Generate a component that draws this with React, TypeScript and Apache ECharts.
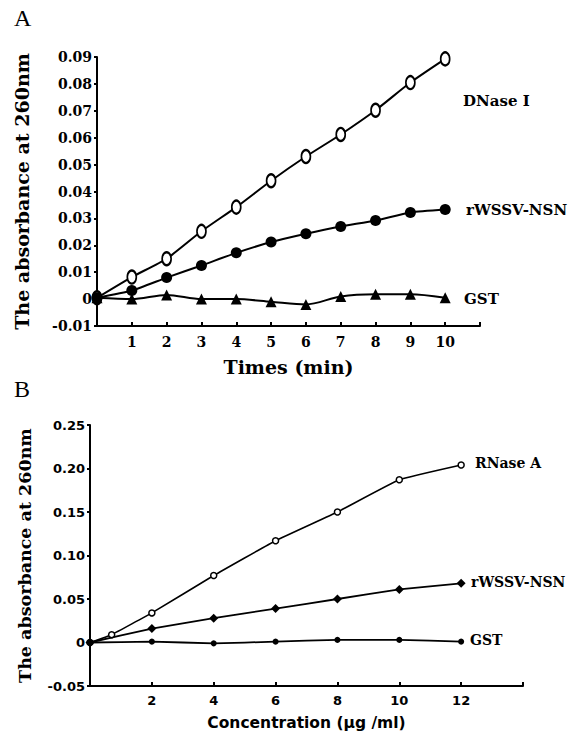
import React, { useEffect, useRef } from "react";
import * as echarts from "echarts";

// Panel A: Times (min)
const timeA = [0, 1, 2, 3, 4, 5, 6, 7, 8, 9, 10];
const dnaseA = [0.0005, 0.0082, 0.015, 0.0252, 0.0342, 0.044, 0.053, 0.0612, 0.0702, 0.0805, 0.0893];
const nsnA = [0.0005, 0.0032, 0.008, 0.0125, 0.0172, 0.0212, 0.0243, 0.027, 0.0292, 0.0322, 0.0333];
const gstA = [0.0005, 0, 0.0015, 0, 0, -0.001, -0.002, 0.001, 0.0018, 0.0018, 0.0005];

// Panel B: Concentration (μg/ml)
const concRNase = [0, 0.7, 2, 4, 6, 8, 10, 12];
const rnaseB = [0, 0.009, 0.034, 0.077, 0.117, 0.15, 0.187, 0.204];
const concB = [0, 2, 4, 6, 8, 10, 12];
const nsnB = [0, 0.016, 0.028, 0.039, 0.05, 0.061, 0.068];
const gstB = [0, 0.001, -0.001, 0.001, 0.003, 0.003, 0.001];

const serifB = "'DejaVu Serif', serif";
const sansB = "'DejaVu Sans', sans-serif";

const pairs = (xs: number[], ys: number[]) => xs.map((x, i) => [x, ys[i]]);

export default function App() {
  const ref = useRef<HTMLDivElement>(null);
  useEffect(() => {
    document.body.style.margin = "0";
    const chart = echarts.init(ref.current!, undefined, { renderer: "svg" });
    const axisLine = { show: true, onZero: false, lineStyle: { color: "#000", width: 2 } };
    const option: any = {
      animation: false,
      backgroundColor: "#fff",
      grid: [
        { left: 97, top: 57, width: 383, height: 269, outerBoundsMode: "none", containLabel: false },
        { left: 90, top: 425, width: 433, height: 261, outerBoundsMode: "none", containLabel: false },
      ],
      xAxis: [
        {
          type: "value", gridIndex: 0, min: 0, max: 11, interval: 1,
          axisLine, splitLine: { show: false },
          axisTick: { show: true, inside: true, length: 4, lineStyle: { color: "#000", width: 2 } },
          axisLabel: {
            margin: 9, color: "#000", fontFamily: serifB, fontWeight: "bold", fontSize: 14,
            formatter: (v: number) => (v === 0 || v === 11 ? "" : String(v)),
          },
          name: "Times (min)", nameLocation: "middle", nameGap: 31,
          nameTextStyle: { color: "#000", fontFamily: serifB, fontWeight: "bold", fontSize: 19 },
        },
        {
          type: "value", gridIndex: 1, min: 0, max: 14, interval: 2,
          axisLine, splitLine: { show: false },
          axisTick: { show: true, inside: true, length: 4, lineStyle: { color: "#000", width: 2 } },
          axisLabel: {
            margin: 8, color: "#000", fontFamily: sansB, fontWeight: "bold", fontSize: 13,
            formatter: (v: number) => (v === 0 || v === 14 ? "" : String(v)),
          },
          name: "Concentration (μg /ml)", nameLocation: "middle", nameGap: 29,
          nameTextStyle: { color: "#000", fontFamily: sansB, fontWeight: "bold", fontSize: 15.5 },
        },
      ],
      yAxis: [
        {
          type: "value", gridIndex: 0, min: -0.01, max: 0.09, interval: 0.01,
          axisLine, splitLine: { show: false },
          axisTick: { show: true, length: 3, lineStyle: { color: "#000", width: 2 } },
          axisLabel: {
            margin: 5, color: "#000", fontFamily: serifB, fontWeight: "bold", fontSize: 14,
            formatter: (v: number) => (Math.abs(v) < 1e-9 ? "0" : v.toFixed(2)),
          },
          name: "The absorbance at 260nm", nameLocation: "middle", nameGap: 66, nameRotate: 90,
          nameTextStyle: { color: "#000", fontFamily: serifB, fontWeight: "bold", fontSize: 19 },
        },
        {
          type: "value", gridIndex: 1, min: -0.05, max: 0.25, interval: 0.05,
          axisLine, splitLine: { show: false },
          axisTick: { show: true, length: 3, lineStyle: { color: "#000", width: 2 } },
          axisLabel: {
            margin: 5, color: "#000", fontFamily: sansB, fontWeight: "bold", fontSize: 13,
            formatter: (v: number) => (Math.abs(v) < 1e-9 ? "0" : v.toFixed(2)),
          },
          name: "The absorbance at 260nm", nameLocation: "middle", nameGap: 56, nameRotate: 90,
          nameTextStyle: { color: "#000", fontFamily: serifB, fontWeight: "bold", fontSize: 17.5 },
        },
      ],
      series: [
        {
          name: "DNase I", type: "line", xAxisIndex: 0, yAxisIndex: 0, smooth: 0.2,
          data: pairs(timeA, dnaseA), symbol: "circle", symbolSize: [9, 13],
          lineStyle: { color: "#000", width: 2 },
          itemStyle: { color: "#fff", borderColor: "#000", borderWidth: 2 }, z: 3,
        },
        {
          name: "rWSSV-NSN", type: "line", xAxisIndex: 0, yAxisIndex: 0, smooth: 0.2,
          data: pairs(timeA, nsnA), symbol: "circle", symbolSize: 11,
          lineStyle: { color: "#000", width: 2 },
          itemStyle: { color: "#000" }, z: 3,
        },
        {
          name: "GST", type: "line", xAxisIndex: 0, yAxisIndex: 0, smooth: 0.3,
          data: pairs(timeA, gstA), symbol: "triangle", symbolSize: 11,
          lineStyle: { color: "#000", width: 2 },
          itemStyle: { color: "#000" }, z: 3,
        },
        {
          name: "RNase A", type: "line", xAxisIndex: 1, yAxisIndex: 1, smooth: 0.1,
          data: pairs(concRNase, rnaseB), symbol: "circle", symbolSize: 6,
          lineStyle: { color: "#000", width: 1.6 },
          itemStyle: { color: "#fff", borderColor: "#000", borderWidth: 1.5 }, z: 3,
        },
        {
          name: "rWSSV-NSN B", type: "line", xAxisIndex: 1, yAxisIndex: 1, smooth: 0.1,
          data: pairs(concB, nsnB), symbol: "diamond", symbolSize: 9,
          lineStyle: { color: "#000", width: 1.8 },
          itemStyle: { color: "#000" }, z: 3,
        },
        {
          name: "GST B", type: "line", xAxisIndex: 1, yAxisIndex: 1, smooth: 0.1,
          data: pairs(concB, gstB), symbol: "circle", symbolSize: 6,
          lineStyle: { color: "#000", width: 1.8 },
          itemStyle: { color: "#000" }, z: 3,
        },
      ],
      graphic: [
        { type: "text", left: 14, top: 6, style: { text: "A", fontSize: 24, fontFamily: "'Liberation Serif', serif", fill: "#000" } },
        { type: "text", left: 14, top: 377, style: { text: "B", fontSize: 24, fontFamily: "'Liberation Serif', serif", fill: "#000" } },
        { type: "text", left: 463, top: 93, style: { text: "DNase I", fontSize: 15, fontWeight: "bold", fontFamily: serifB, fill: "#000" } },
        { type: "text", left: 466, top: 202, style: { text: "rWSSV-NSN", fontSize: 15, fontWeight: "bold", fontFamily: serifB, fill: "#000" } },
        { type: "text", left: 464, top: 291, style: { text: "GST", fontSize: 15, fontWeight: "bold", fontFamily: serifB, fill: "#000" } },
        { type: "text", left: 475, top: 456, style: { text: "RNase A", fontSize: 14, fontWeight: "bold", fontFamily: serifB, fill: "#000" } },
        { type: "text", left: 471, top: 575, style: { text: "rWSSV-NSN", fontSize: 14, fontWeight: "bold", fontFamily: serifB, fill: "#000" } },
        { type: "text", left: 470, top: 633, style: { text: "GST", fontSize: 14, fontWeight: "bold", fontFamily: serifB, fill: "#000" } },
      ],
    };
    chart.setOption(option);
    return () => chart.dispose();
  }, []);
  return <div ref={ref} style={{ position: "fixed", left: 0, top: 0, width: 571, height: 737 }} />;
}
